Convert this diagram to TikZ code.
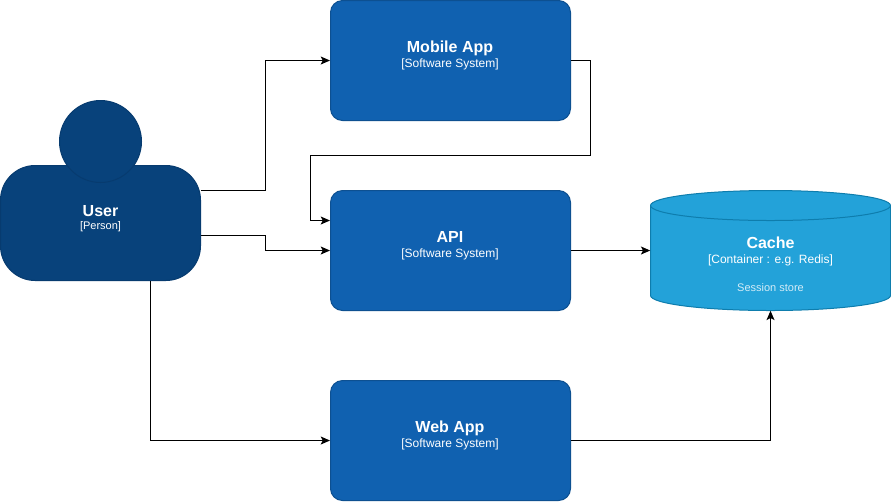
\documentclass[tikz,border=0pt]{standalone}
\usepackage{fontspec}
\setmainfont{Liberation Sans}
\usetikzlibrary{arrows.meta,positioning}
\definecolor{sysfill}{HTML}{1061B0}
\definecolor{sysline}{HTML}{0D5091}
\definecolor{userfill}{HTML}{08427B}
\definecolor{userline}{HTML}{073B6F}
\definecolor{cachefill}{HTML}{23A2D9}
\definecolor{cacheline}{HTML}{0E7DAD}
\tikzset{>={Stealth[length=7pt,width=6pt,inset=1.6pt]}}
\tikzset{system/.style={draw=sysline, fill=sysfill, rounded corners=9pt, minimum width=180pt, minimum height=90pt, inner sep=0pt, line width=0.75pt}}
\tikzset{title/.style={text=white, font=\fontsize{12}{14}\selectfont\bfseries, inner sep=0pt}}
\tikzset{kind/.style={text=white, font=\fontsize{9}{11}\selectfont, inner sep=0pt}}
\tikzset{note/.style={text=white, font=\fontsize{8.25}{10}\selectfont, inner sep=0pt}}
\tikzset{link/.style={->, black, line width=0.75pt}}

\begin{document}
\begin{tikzpicture}[x=0.75pt,y=-0.75pt]
      \useasboundingbox (-0.5,-0.5) rectangle (890.5,500.5);
      % people
      \node[draw=userline, fill=userfill, rounded corners=26pt, minimum width=150pt, minimum height=86.25pt, inner sep=0pt, line width=0.75pt] (user) at (100,222.5) {};
      \node[draw=userline, fill=userfill, circle, minimum size=61.5pt, inner sep=0pt, line width=0.75pt] (head) at (100,141) {};
      \node[title] (usertitle) at (100,210.5) {User};
      \node[note] (userkind) at (100,226.5) {[Person]};
      % systems
      \node[system] (mobile) at (450,60) {};
      \node[system] (api) at (450,250) {};
      \node[system] (web) at (450,440) {};
      \node[title] (mobiletitle) at (449.5,47.5) {Mobile App};
      \node[kind] (mobilekind) at (449.5,63.5) {[Software System]};
      \node[title] (apititle) at (449.5,236.5) {API};
      \node[kind] (apikind) at (449.5,253.5) {[Software System]};
      \node[title] (webtitle) at (449.5,427.5) {Web App};
      \node[kind] (webkind) at (449.5,443.5) {[Software System]};
      % cache
      \node[minimum width=180pt, minimum height=90pt, inner sep=0pt] (cache) at (770,250) {};
      \draw[draw=cacheline, fill=cachefill, line width=0.75pt] (650,205) arc[start angle=180, end angle=0, x radius=90pt, y radius=11.25pt] -- (890,295) arc[start angle=0, end angle=-180, x radius=90pt, y radius=11.25pt] -- cycle;
      \draw[draw=cacheline, line width=0.75pt] (650,205) arc[start angle=180, end angle=360, x radius=90pt, y radius=11.25pt];
      \node[title] (cachetitle) at (770,242.5) {Cache};
      \node[kind] (cachekind) at (770,259.5) {[Container : e.g. Redis]};
      \node[note, text=white!80!cachefill] (cachenote) at (770,287.5) {Session store};
      % links
      \draw[link] ([yshift=24.4pt]user.east) -- ++(64.5,0) |- (mobile.west);
      \draw[link] ([yshift=-9.4pt]user.east) -- ++(64.5,0) |- (api.west);
      \draw[link] ([xshift=37.5pt]user.south) |- (web.west);
      \draw[link] (mobile.east) -- ++(19.5,0) |- (310,155) |- ([yshift=22.5pt]api.west);
      \draw[link] (api.east) -- (cache.west);
      \draw[link] (web.east) -| (cache.south);
\end{tikzpicture}
\end{document}
